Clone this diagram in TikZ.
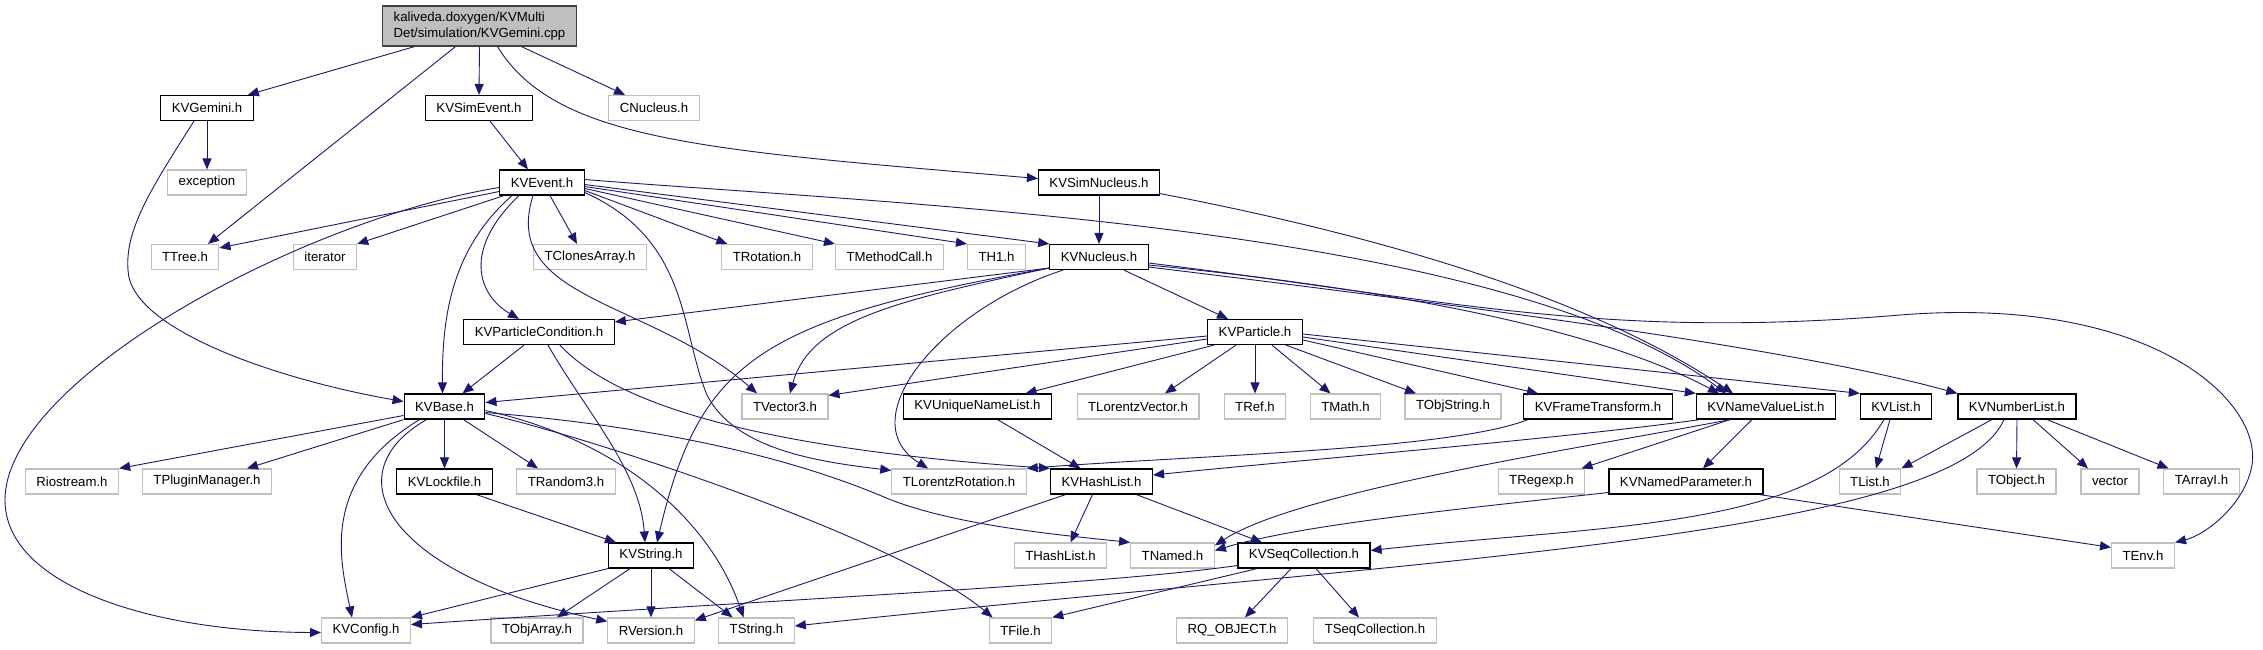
\documentclass[tikz,border=0pt]{standalone}
\usepackage{fontspec}
\setmainfont{Liberation Sans}
\usetikzlibrary{arrows.meta}
\definecolor{edgeBlue}{HTML}{191970}
\definecolor{extGray}{HTML}{BFBFBF}
\definecolor{srcFill}{HTML}{BFBFBF}
\definecolor{srcLine}{HTML}{404040}

\begin{document}
\begin{tikzpicture}[x=1pt, y=-1pt, font=\fontsize{13.2}{15.5}\selectfont,
  hdr/.style={draw=black, line width=1.2pt, fill=white, minimum height=25pt, inner xsep=11pt, inner ysep=0pt},
  ext/.style={draw=extGray, line width=1.2pt, fill=white, minimum height=25pt, inner xsep=11pt, inner ysep=0pt},
  src/.style={draw=srcLine, line width=1.2pt, fill=srcFill, minimum height=40pt, inner xsep=11pt, inner ysep=3pt, align=left},
  dep/.style={draw=edgeBlue, line width=0.9pt, -{Triangle[length=11pt,width=9pt]}}]
\useasboundingbox[fill=white] (0,0) rectangle (2263,649);
\node[src] (root) at (479.5,26) {kaliveda.doxygen/KVMulti\\Det/simulation/KVGemini.cpp};
\node[hdr] (gem) at (207,108) {KVGemini.h};
\node[hdr] (simev) at (479,108) {KVSimEvent.h};
\node[ext] (cnuc) at (654,108) {CNucleus.h};
\node[ext] (exc) at (207,182.5) {exception};
\node[hdr] (ev) at (542,182.5) {KVEvent.h};
\node[hdr] (simnuc) at (1099,182.5) {KVSimNucleus.h};
\node[ext] (ttree) at (185,257) {TTree.h};
\node[ext] (iter) at (325,257) {iterator};
\node[ext] (tclon) at (590,257) {TClonesArray.h};
\node[ext] (trot) at (767,257) {TRotation.h};
\node[ext] (tmeth) at (889.5,257) {TMethodCall.h};
\node[ext] (th1) at (996.5,257) {TH1.h};
\node[hdr] (nuc) at (1099,257) {KVNucleus.h};
\node[hdr] (pcond) at (539,332) {KVParticleCondition.h};
\node[hdr] (part) at (1255,332) {KVParticle.h};
\node[hdr] (base) at (444.5,406.5) {KVBase.h};
\node[ext] (tvec) at (785,406.5) {TVector3.h};
\node[hdr] (uniq) at (977.5,406.5) {KVUniqueNameList.h};
\node[ext] (tlvec) at (1138,406.5) {TLorentzVector.h};
\node[ext] (tref) at (1255,406.5) {TRef.h};
\node[ext] (tmath) at (1345.5,406.5) {TMath.h};
\node[ext] (tobjs) at (1453,406.5) {TObjString.h};
\node[hdr] (frame) at (1598,406.5) {KVFrameTransform.h};
\node[hdr] (nvl) at (1766,406.5) {KVNameValueList.h};
\node[hdr] (klist) at (1896,406.5) {KVList.h};
\node[hdr] (numl) at (2017,406.5) {KVNumberList.h};
\node[ext] (rio) at (72,481.5) {Riostream.h};
\node[ext] (tplug) at (207,481.5) {TPluginManager.h};
\node[hdr] (lock) at (444.5,481.5) {KVLockfile.h};
\node[ext] (trand) at (566,481.5) {TRandom3.h};
\node[ext] (tlrot) at (959,481.5) {TLorentzRotation.h};
\node[hdr] (hash) at (1101.5,481.5) {KVHashList.h};
\node[ext] (treg) at (1541.5,481.5) {TRegexp.h};
\node[hdr] (npar) at (1686,481.5) {KVNamedParameter.h};
\node[ext] (tlist) at (1870,481.5) {TList.h};
\node[ext] (tobj) at (2016.5,481.5) {TObject.h};
\node[ext] (vect) at (2110,481.5) {vector};
\node[ext] (tarr) at (2201.5,481.5) {TArrayI.h};
\node[hdr] (kstr) at (651,555.5) {KVString.h};
\node[ext] (thash) at (1060.5,555.5) {THashList.h};
\node[ext] (tnam) at (1172.5,555.5) {TNamed.h};
\node[hdr] (seq) at (1304,555.5) {KVSeqCollection.h};
\node[ext] (tenv) at (2143,555.5) {TEnv.h};
\node[ext] (conf) at (366,630.5) {KVConfig.h};
\node[ext] (tobja) at (537,630.5) {TObjArray.h};
\node[ext] (rver) at (651,630.5) {RVersion.h};
\node[ext] (tstr) at (756.5,630.5) {TString.h};
\node[ext] (tfile) at (1020.5,630.5) {TFile.h};
\node[ext] (rq) at (1232,630.5) {RQ\_OBJECT.h};
\node[ext] (tseq) at (1375,630.5) {TSeqCollection.h};
\draw[dep] ([xshift=-65pt]root.south) -- ([xshift=-6pt]gem.north east);
\draw[dep] ([xshift=-24pt]root.south) -- ([xshift=23pt]ttree.north);
\draw[dep] (root.south) -- (simev.north);
\draw[dep] ([xshift=42pt]root.south) -- ([xshift=-29pt]cnuc.north);
\draw[dep] ([xshift=18pt]root.south) .. controls (555,140) and (700,150) .. ([yshift=4pt]simnuc.west);
\draw[dep] (gem.south) -- (exc.north);
\draw[dep] ([xshift=-13pt]gem.south) .. controls (150,190) and (125,230) .. (128,270) .. controls (130,330) and (280,380) .. ([yshift=5pt]base.west);
\draw[dep] ([xshift=11pt]simev.south) -- ([xshift=-14pt]ev.north);
\draw[dep] (simnuc.south) -- (nuc.north);
\draw[dep] ([yshift=2pt]simnuc.south east) .. controls (1350,230) and (1580,290) .. ([xshift=-33pt]nvl.north);
\draw[dep] ([yshift=-9pt]ev.west) -- ([yshift=-4pt]ttree.north east);
\draw[dep] ([xshift=-38pt]ev.south) -- (iter.north east);
\draw[dep] ([xshift=8pt]ev.south) -- ([xshift=-13pt]tclon.north);
\draw[dep] ([yshift=-8pt]ev.east) -- ([xshift=6pt]trot.north west);
\draw[dep] ([yshift=-6pt]ev.east) -- (tmeth.north west);
\draw[dep] ([yshift=-4pt]ev.east) -- (th1.north west);
\draw[dep] ([yshift=-2pt]ev.east) -- (nuc.north west);
\draw[dep] ([yshift=3pt]ev.east) .. controls (900,205) and (1500,225) .. ([xshift=-40pt]nvl.north);
\draw[dep] ([xshift=-23pt]ev.south) .. controls (462,250) and (478,295) .. ([xshift=-20pt]pcond.north);
\draw[dep] ([xshift=-30pt]ev.south) .. controls (450,250) and (442,320) .. ([xshift=-2pt]base.north);
\draw[dep] ([xshift=-9pt]ev.south) .. controls (500,300) and (650,300) .. ([xshift=-28pt]tvec.north);
\draw[dep] ([yshift=-10pt]ev.east) .. controls (690,240) and (680,330) .. (707,395) .. controls (735,450) and (820,462) .. ([yshift=-2pt]tlrot.north west);
\draw[dep] ([yshift=-5pt]ev.west) .. controls (300,220) and (5,380) .. (5,500) .. controls (5,585) and (150,632) .. ([yshift=-2pt]conf.west);
\draw[dep] ([xshift=25pt]nuc.south) -- ([xshift=-27pt]part.north);
\draw[dep] ([yshift=-11pt]nuc.west) -- ([yshift=-3pt]pcond.north east);
\draw[dep] ([yshift=-11pt]nuc.west) .. controls (900,300) and (810,320) .. ([xshift=5pt]tvec.north);
\draw[dep] ([yshift=-11pt]nuc.west) .. controls (760,320) and (700,360) .. ([xshift=6pt]kstr.north);
\draw[dep] ([xshift=-36pt]nuc.south) .. controls (940,310) and (850,420) .. ([xshift=-31pt]tlrot.north);
\draw[dep] ([yshift=-8pt]nuc.east) .. controls (1400,290) and (1600,330) .. ([xshift=-47pt]nvl.north);
\draw[dep] ([yshift=-10pt]nuc.east) .. controls (1500,310) and (1800,350) .. (numl.north west);
\draw[dep] ([yshift=-6pt]nuc.east) .. controls (1450,300) and (1600,340) .. (1900,315) .. controls (2150,295) and (2262,400) .. (2252,465) .. controls (2245,505) and (2205,535) .. (tenv.north east);
\draw[dep] ([yshift=-4pt]part.west) -- ([yshift=4pt]base.east);
\draw[dep] ([yshift=-7pt]part.west) -- ([yshift=-2pt]tvec.north east);
\draw[dep] ([xshift=-41pt]part.south) -- ([xshift=48pt]uniq.north);
\draw[dep] ([xshift=-19pt]part.south) -- ([xshift=27pt]tlvec.north);
\draw[dep] (part.south) -- (tref.north);
\draw[dep] ([xshift=17pt]part.south) -- ([xshift=-15pt]tmath.north);
\draw[dep] ([xshift=31pt]part.south) -- ([xshift=-37pt]tobjs.north);
\draw[dep] ([yshift=-8pt]part.east) -- ([xshift=-60pt]frame.north);
\draw[dep] ([yshift=-5pt]part.east) -- (nvl.north west);
\draw[dep] ([yshift=-2pt]part.east) -- (klist.north west);
\draw[dep] ([xshift=-15pt]pcond.south) -- ([xshift=18pt]base.north);
\draw[dep] ([xshift=9pt]pcond.south) .. controls (585,410) and (640,470) .. ([xshift=-6pt]kstr.north);
\draw[dep] ([xshift=21pt]pcond.south) .. controls (620,410) and (780,450) .. (hash.north west);
\draw[dep] ([yshift=-9pt]base.west) -- (rio.north east);
\draw[dep] (base.south west) -- ([xshift=40pt]tplug.north);
\draw[dep] (base.south) -- (lock.north);
\draw[dep] ([xshift=19pt]base.south) -- ([xshift=-28pt]trand.north);
\draw[dep] ([xshift=-25pt]base.south) .. controls (320,480) and (340,560) .. ([xshift=-14pt]conf.north);
\draw[dep] ([xshift=-18pt]base.south) .. controls (330,475) and (390,575) .. ([yshift=-4pt]rver.north west);
\draw[dep] ([yshift=-4pt]base.east) .. controls (620,440) and (710,520) .. ([xshift=-13pt]tstr.north);
\draw[dep] ([yshift=-7pt]base.east) .. controls (600,440) and (900,540) .. ([xshift=-28pt]tfile.north);
\draw[dep] ([yshift=-6pt]base.east) .. controls (700,430) and (820,470) .. (884,497) .. controls (950,525) and (1060,535) .. (tnam.north west);
\draw[dep] ([xshift=32pt]lock.south) -- ([xshift=-35pt]kstr.north);
\draw[dep] (kstr.south west) -- (conf.north east);
\draw[dep] ([xshift=-21pt]kstr.south) -- ([xshift=20pt]tobja.north);
\draw[dep] (kstr.south) -- (rver.north);
\draw[dep] ([xshift=18pt]kstr.south) -- ([xshift=-24pt]tstr.north);
\draw[dep] ([xshift=-9pt]hash.south) -- ([xshift=10pt]thash.north);
\draw[dep] ([xshift=35pt]hash.south) -- ([xshift=-42pt]seq.north);
\draw[dep] ([xshift=-36pt]hash.south) -- ([yshift=-3pt]rver.north east);
\draw[dep] ([yshift=-10pt]seq.west) .. controls (1100,585) and (800,598) .. ([yshift=6pt]conf.east);
\draw[dep] ([xshift=-47pt]seq.south) -- (tfile.north east);
\draw[dep] ([xshift=-13pt]seq.south) -- ([xshift=13pt]rq.north);
\draw[dep] ([xshift=12pt]seq.south) -- ([xshift=-16pt]tseq.north);
\draw[dep] ([xshift=20pt]uniq.south) -- ([xshift=-21pt]hash.north);
\draw[dep] ([xshift=-70pt]frame.south) .. controls (1450,450) and (1200,455) .. (tlrot.north east);
\draw[dep] ([xshift=-66pt]nvl.south) .. controls (1550,440) and (1300,460) .. ([yshift=6.5pt]hash.east);
\draw[dep] ([xshift=-36pt]nvl.south) .. controls (1600,445) and (1300,490) .. ([yshift=-3pt]tnam.north east);
\draw[dep] ([xshift=-36pt]nvl.south) -- ([xshift=40pt]treg.north);
\draw[dep] ([xshift=-14pt]nvl.south) -- ([xshift=17pt]npar.north);
\draw[dep] ([yshift=-11pt]npar.west) .. controls (1450,510) and (1300,525) .. ([yshift=5pt]tnam.east);
\draw[dep] ([xshift=-4pt]npar.south east) -- ([yshift=-5pt]tenv.north west);
\draw[dep] ([xshift=-6pt]klist.south) -- ([xshift=6pt]tlist.north);
\draw[dep] ([xshift=-12pt]klist.south) .. controls (1820,530) and (1600,525) .. ([yshift=5pt]seq.east);
\draw[dep] ([xshift=-25pt]numl.south) -- (tlist.north east);
\draw[dep] (numl.south) -- (tobj.north);
\draw[dep] ([xshift=16pt]numl.south) -- ([xshift=-22pt]vect.north);
\draw[dep] ([xshift=30pt]numl.south) -- ([xshift=-33pt]tarr.north);
\draw[dep] ([xshift=-13pt]numl.south) .. controls (1950,540) and (1400,560) .. ([yshift=4.5pt]tstr.east);
\end{tikzpicture}
\end{document}
